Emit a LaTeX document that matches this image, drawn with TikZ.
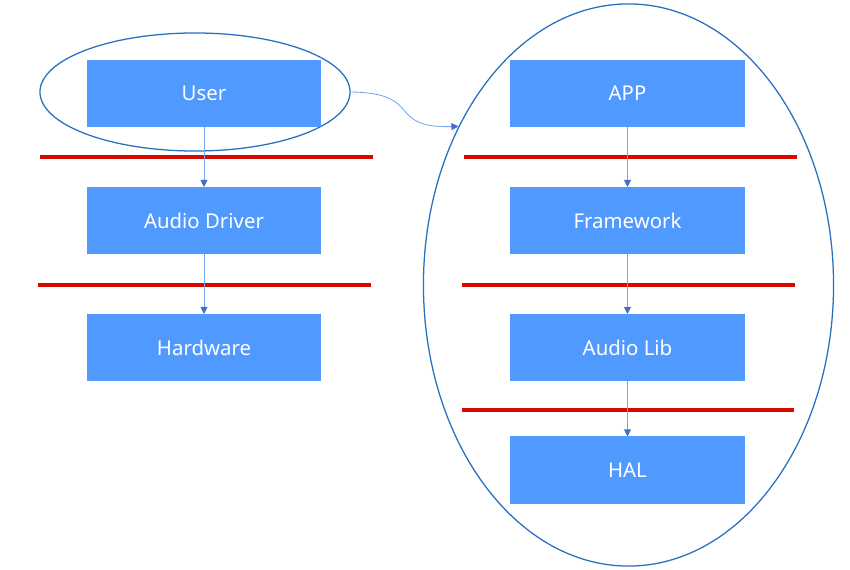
\documentclass[tikz,border=0pt]{standalone}
\usepackage{fontspec}
\setmainfont{Noto Sans}
\usetikzlibrary{arrows.meta,shapes.geometric}
\definecolor{boxblue}{RGB}{80,153,255}
\definecolor{ringblue}{RGB}{38,112,190}
\definecolor{linkblue}{RGB}{120,165,235}
\definecolor{tipblue}{RGB}{70,110,200}
\definecolor{cutred}{RGB}{215,10,0}

\begin{document}
\begin{tikzpicture}[x=0.025cm,y=-0.025cm,
    layer/.style = {rectangle,fill=boxblue,text=white,minimum width=5.85cm,minimum height=1.675cm,inner sep=0pt,outer sep=0mm,font=\fontsize{14.5}{17}\selectfont},
    ring/.style = {ellipse,draw=ringblue,line width=0.9pt,inner sep=0pt},
    link/.style = {draw=linkblue,line width=0.6pt,-{Triangle[length=5pt,width=5pt,fill=tipblue,color=tipblue]}},
    cut/.style = {draw=cutred,line width=2.4pt}]
    \useasboundingbox (0,0) rectangle (850,570);
    \node[ring,minimum width=7.75cm,minimum height=2.95cm] (kernelring) at (195,92) {};
    \node[ring,minimum width=10.25cm,minimum height=14.05cm] (androidring) at (628.5,285) {};
    \foreach \name/\txt/\y in {user/User/93.5, driver/Audio Driver/220.5, hw/Hardware/347.5} \node[layer] (\name) at (204,\y) {\txt};
    \foreach \name/\txt/\y in {app/APP/93.5, fw/Framework/220.5, alib/Audio Lib/347.5, hal/HAL/470} \node[layer] (\name) at (627.5,\y) {\txt};
    \draw[cut] (40,157) -- (373,157);
    \draw[cut] (38,285) -- (371,285);
    \draw[cut] (464,157) -- (797,157);
    \draw[cut] (462,285) -- (795,285);
    \draw[cut] (462,410) -- (794,410);
    \draw[link] (user) -- (driver);
    \draw[link] (driver) -- (hw);
    \draw[link] (app) -- (fw);
    \draw[link] (fw) -- (alib);
    \draw[link] (alib) -- (hal);
    \draw[link] (kernelring.east) .. controls (425,93) and (385,128) .. (androidring.137);
\end{tikzpicture}
\end{document}
